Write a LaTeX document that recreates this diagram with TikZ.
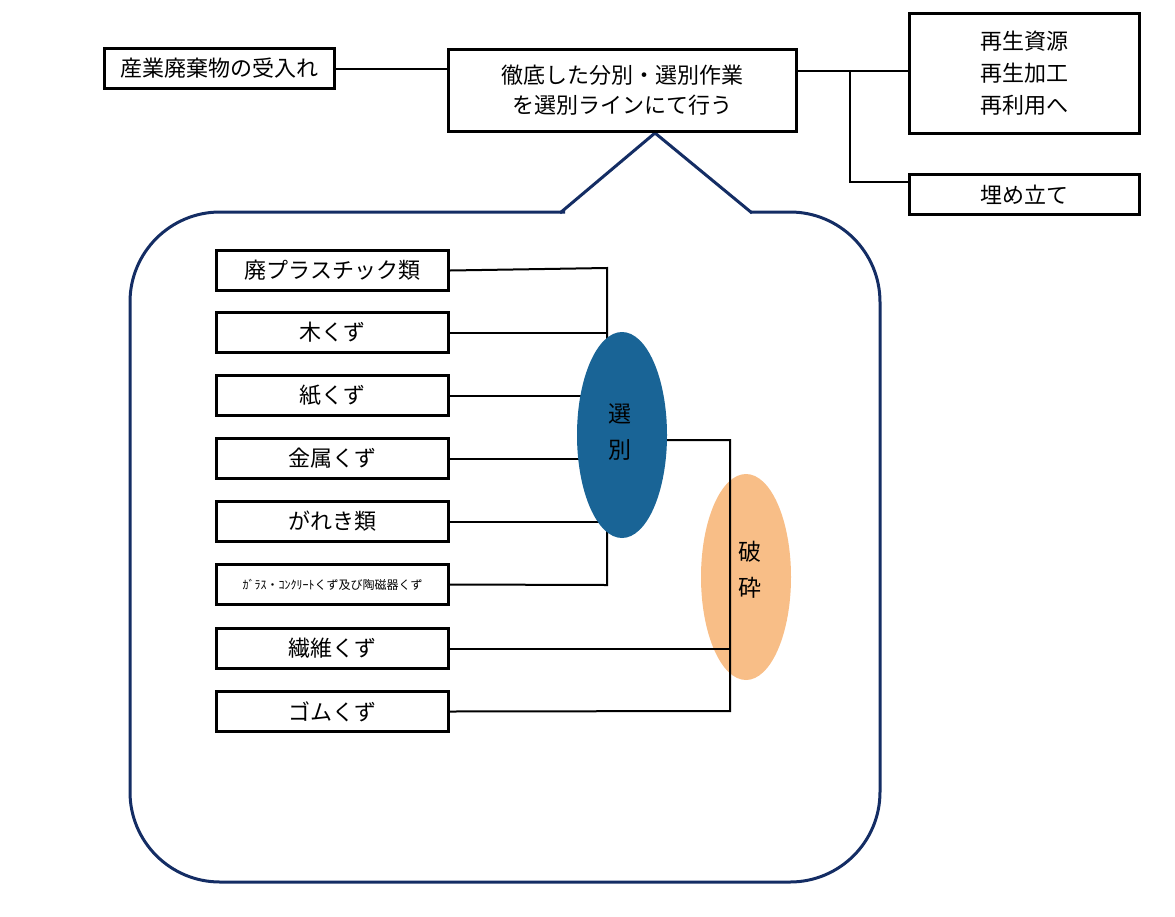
\documentclass[tikz,border=0pt]{standalone}
\usetikzlibrary{shapes.geometric}
\usepackage{fontspec}
\setmainfont{Noto Sans CJK JP}
\begin{document}
\begin{tikzpicture}[x=1pt,y=-1pt,
  box/.style={draw=black,line width=3pt,minimum height=40pt,inner sep=0pt,font=\fontsize{22}{26}\selectfont},
  ln/.style={draw=black,line width=2pt}]
\useasboundingbox (0,0) rectangle (1175,916);
% callout
\draw[draw={rgb,255:red,20;green,45;blue,100},line width=3pt,rounded corners=90pt]
  (565,212) -- (130,212) -- (130,882) -- (880,882) -- (880,212) -- (750,212);
\draw[draw={rgb,255:red,20;green,45;blue,100},line width=3pt,line join=round]
  (560,213) -- (655,133) -- (752,213);
% top boxes
\node[box,minimum width=230pt,anchor=north west] (a) at (103,47) {産業廃棄物の受入れ};
\node[box,minimum width=348pt,minimum height=82pt,anchor=north west,align=center] (b) at (447,48) {徹底した分別・選別作業\\[4pt]を選別ラインにて行う};
\node[box,minimum width=230pt,minimum height=120pt,anchor=north west,align=center] (c) at (908,12) {再生資源\\[6pt]再生加工\\[6pt]再利用へ};
\node[box,minimum width=230pt,anchor=north west] (d) at (908,173) {埋め立て};
\draw[ln] (a.east) -- (a.east -| b.west);
\coordinate (j) at (850,71);
\draw[ln] (b.east |- j) -- (c.west |- j);
\coordinate (j2) at (850,182);
\draw[ln] (j) -- (j2) -- (d.west |- j2);
% left boxes
\foreach \n/\y/\t in {1/249/廃プラスチック類,2/311/木くず,3/374/紙くず,4/437/金属くず,5/500/がれき類,7/627/繊維くず,8/690/ゴムくず}
  \node[box,minimum width=232pt,anchor=north west] (L\n) at (215,\y) {\t};
\node[box,minimum width=232pt,anchor=north west,font=\fontsize{12}{14}\selectfont] (L6) at (215,563) {ｶﾞﾗｽ・ｺﾝｸﾘｰﾄくず及び陶磁器くず};
% selection lines
\coordinate (v1) at (607,268); \coordinate (v6) at (607,585);
\draw[ln] (L1.east) -- (v1) -- (v6) -- (L6.east);
\foreach \n in {2,3,4,5} \draw[ln] (L\n.east) -- (L\n.east -| v1);
\node[ellipse,fill={rgb,255:red,25;green,100;blue,150},minimum width=90pt,minimum height=206pt,inner sep=0pt] (s) at (622,435) {};
\node[font=\fontsize{23}{30}\selectfont,align=center] (st) at (620,432) {選\\[6pt]別};
% crushing
\node[ellipse,fill={rgb,255:red,248;green,190;blue,135},minimum width=90pt,minimum height=206pt,inner sep=0pt] (h) at (746,577) {};
\node[font=\fontsize{23}{30}\selectfont,align=center] (ht) at (750,570) {破\\[6pt]砕};
\coordinate (w1) at (730,440); \coordinate (w2) at (730,711);
\draw[ln] (s.east |- w1) -- (w1) -- (w2) -- (L8.east);
\draw[ln] (L7.east) -- (L7.east -| w1);
\end{tikzpicture}
\end{document}
